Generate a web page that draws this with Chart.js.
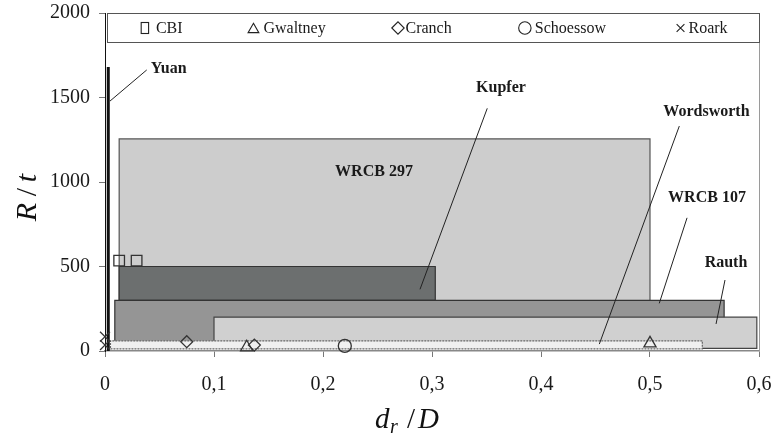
<!DOCTYPE html>
<html><head><meta charset="utf-8">
<script src="https://cdn.jsdelivr.net/npm/chart.js@4.4.1/dist/chart.umd.min.js"></script>
<style>html,body{margin:0;padding:0;background:#fff;} canvas{display:block;}</style>
</head><body>
<canvas id="c" width="775" height="444"></canvas>
<script>
// ---------------- data ----------------
const studies = ['WRCB 297', 'Kupfer', 'WRCB 107', 'Rauth', 'Wordsworth'];
const drMin = [0.013, 0.013, 0.009, 0.100, 0.005];
const drMax = [0.500, 0.303, 0.568, 0.598, 0.548];
const rtMin = [15, 300, 15, 15, 12];
const rtMax = [1255, 500, 300, 200, 60];

const yuanDr = [0.003, 0.003];
const yuanRt = [0, 1680];

const markerSeries = ['CBI', 'Gwaltney', 'Cranch', 'Schoessow', 'Roark'];
const cbiDr = [0.013, 0.029];       const cbiRt = [535, 535];
const gwaltneyDr = [0.130, 0.500];  const gwaltneyRt = [22, 45];
const cranchDr = [0.075, 0.137];    const cranchRt = [55, 35];
const schoessowDr = [0.220];        const schoessowRt = [30];
const roarkDr = [0, 0];             const roarkRt = [85, 35];

const xTickLabels = ['0', '0,1', '0,2', '0,3', '0,4', '0,5', '0,6'];
const yTickLabels = ['0', '500', '1000', '1500', '2000'];

// ---------------- styles / layout ----------------
const rectFill = ['#cdcdcd', '#6c6f6f', '#959595', '#d0d0d0', '#f0f0f0'];
const rectBorder = ['#555', '#333', '#333', '#444', '#666'];
const markerStyle = ['rect', 'triangle', 'rectRot', 'circle', 'crossRot'];
const markerRadius = [7.5, 7, 6, 6.5, 7];

// callout label positions (data coordinates) and leader lines
const callouts = [
  {text: 'Yuan', x: 0.0419, y: 1669, align: 'left', line: [[0.0383, 1663], [0.0046, 1479]]},
  {text: 'Kupfer', x: 0.3633, y: 1556, align: 'center', line: [[0.3507, 1436], [0.289, 365]]},
  {text: 'WRCB 297', x: 0.2468, y: 1062, align: 'center', line: null},
  {text: 'Wordsworth', x: 0.5518, y: 1416, align: 'center', line: [[0.5269, 1331], [0.4535, 41]]},
  {text: 'WRCB 107', x: 0.5523, y: 905, align: 'center', line: [[0.534, 788], [0.5085, 282]]},
  {text: 'Rauth', x: 0.5697, y: 522, align: 'center', line: [[0.5688, 420], [0.5606, 160]]}
];

const SERIF = '"Liberation Serif", "Times New Roman", serif';

// ---------------- datasets ----------------
const datasets = [];
studies.forEach((name, i) => {
  datasets.push({
    label: name,
    data: [
      {x: drMin[i], y: rtMin[i]}, {x: drMax[i], y: rtMin[i]},
      {x: drMax[i], y: rtMax[i]}, {x: drMin[i], y: rtMax[i]},
      {x: drMin[i], y: rtMin[i]}
    ],
    fill: 'shape',
    backgroundColor: rectFill[i],
    borderColor: rectBorder[i],
    borderWidth: 1.2,
    borderDash: i === 4 ? [2, 1] : [],
    pointRadius: 0,
    tension: 0,
    order: 20 - i,
    clip: false
  });
});
datasets.push({
  label: 'Yuan',
  data: yuanDr.map((x, k) => ({x, y: yuanRt[k]})),
  borderColor: '#111', borderWidth: 3, pointRadius: 0, fill: false, order: 10, clip: false
});
const markerData = [[cbiDr, cbiRt], [gwaltneyDr, gwaltneyRt], [cranchDr, cranchRt], [schoessowDr, schoessowRt], [roarkDr, roarkRt]];
markerSeries.forEach((name, i) => {
  const [xs, ys] = markerData[i];
  datasets.push({
    label: name,
    data: xs.map((x, k) => ({x, y: ys[k]})),
    showLine: false,
    pointStyle: markerStyle[i],
    pointRadius: markerRadius[i],
    pointBorderColor: '#333',
    pointBackgroundColor: 'rgba(0,0,0,0)',
    pointBorderWidth: 1.3,
    order: 1,
    clip: false
  });
});

// ---------------- plugin: callouts, legend, titles ----------------
const decor = {
  id: 'decor',
  afterDatasetsDraw(chart) {
    const ctx = chart.ctx, xs = chart.scales.x, ys = chart.scales.y, a = chart.chartArea;
    ctx.save();
    // right plot border
    ctx.strokeStyle = '#9a9a9a'; ctx.lineWidth = 1;
    ctx.beginPath(); ctx.moveTo(Math.round(a.right) + 0.5, a.top); ctx.lineTo(Math.round(a.right) + 0.5, a.bottom); ctx.stroke();
    // callouts
    ctx.strokeStyle = '#222'; ctx.lineWidth = 1;
    ctx.fillStyle = '#1a1a1a';
    ctx.font = 'bold 16px ' + SERIF;
    ctx.textBaseline = 'middle';
    callouts.forEach(c => {
      if (c.line) {
        ctx.beginPath();
        ctx.moveTo(xs.getPixelForValue(c.line[0][0]), ys.getPixelForValue(c.line[0][1]));
        ctx.lineTo(xs.getPixelForValue(c.line[1][0]), ys.getPixelForValue(c.line[1][1]));
        ctx.stroke();
      }
      ctx.textAlign = c.align;
      ctx.fillText(c.text, xs.getPixelForValue(c.x), ys.getPixelForValue(c.y));
    });
    // legend box inside plot top
    const lx = a.left + 2.5, ly = a.top + 0.5, lw = a.right - a.left - 2, lh = 29;
    ctx.fillStyle = '#fff';
    ctx.fillRect(lx, ly, lw, lh);
    ctx.strokeStyle = '#555'; ctx.lineWidth = 1;
    ctx.strokeRect(lx, ly, lw, lh);
    const cy = ly + lh / 2;
    const frac = [0.061, 0.227, 0.448, 0.642, 0.880];
    const tOff = [11, 10, 7.5, 10, 8];
    ctx.font = '16px ' + SERIF;
    ctx.textAlign = 'left';
    markerSeries.forEach((name, i) => {
      const mx = a.left + frac[i] * (a.right - a.left);
      ctx.strokeStyle = '#222'; ctx.lineWidth = 1.1;
      if (markerStyle[i] === 'rect') {
        ctx.strokeRect(mx - 3.7, cy - 5.5, 7.4, 11);
      } else {
        ctx.fillStyle = 'rgba(0,0,0,0)';
        Chart.helpers.drawPoint(ctx, {pointStyle: markerStyle[i], radius: i === 4 ? 5.5 : 6.2, rotation: 0, borderWidth: 1.1}, mx, cy + (i === 1 ? 1.5 : 0));
      }
      ctx.fillStyle = '#1a1a1a';
      ctx.fillText(name, mx + tOff[i], cy + 0.5);
    });
    // y title R/t (rotated, math style spacing)
    ctx.fillStyle = '#111';
    ctx.save();
    ctx.translate(28, 223);
    ctx.rotate(-Math.PI / 2);
    ctx.textAlign = 'center';
    ctx.textBaseline = 'middle';
    ctx.font = 'italic 30px ' + SERIF;
    ctx.fillText('R', 11, 0);
    ctx.font = '30px ' + SERIF;
    ctx.fillText('/', 31, 0);
    ctx.font = 'italic 30px ' + SERIF;
    ctx.fillText('t', 45, 0);
    ctx.restore();
    // x title d_r / D
    const base = 428;
    ctx.textBaseline = 'alphabetic';
    ctx.textAlign = 'left';
    ctx.font = 'italic 29px ' + SERIF; ctx.fillText('d', 375, base);
    ctx.font = 'italic 20px ' + SERIF; ctx.fillText('r', 390, base + 5);
    ctx.font = '29px ' + SERIF; ctx.fillText('/', 407, base);
    ctx.font = 'italic 29px ' + SERIF; ctx.fillText('D', 418, base);
    ctx.restore();
  }
};

new Chart(document.getElementById('c'), {
  type: 'line',
  data: {datasets},
  options: {
    responsive: false,
    animation: false,
    events: [],
    layout: {padding: {left: 0, right: 16, top: 13, bottom: 0}},
    plugins: {legend: {display: false}, tooltip: {enabled: false}},
    scales: {
      x: {
        type: 'linear', min: 0, max: 0.6,
        ticks: {stepSize: 0.1, color: '#1a1a1a', font: {family: SERIF, size: 20}, padding: 16,
                callback: (v, i) => xTickLabels[i], maxRotation: 0},
        grid: {drawOnChartArea: false, drawTicks: true, tickLength: 6, tickColor: '#777'},
        border: {display: true, color: '#888', width: 1.5},
        afterFit: s => { s.height = 93; s.paddingLeft = 0; s.paddingRight = 0; }
      },
      y: {
        type: 'linear', min: 0, max: 2000,
        ticks: {stepSize: 500, color: '#1a1a1a', font: {family: SERIF, size: 20}, padding: 9,
                callback: (v, i) => yTickLabels[i]},
        grid: {drawOnChartArea: false, drawTicks: true, tickLength: 6, tickColor: '#777'},
        border: {display: true, color: '#111', width: 1},
        afterFit: s => { s.width = 105; s.paddingTop = 0; s.paddingBottom = 0; }
      }
    }
  },
  plugins: [decor]
});
</script>
</body></html>
